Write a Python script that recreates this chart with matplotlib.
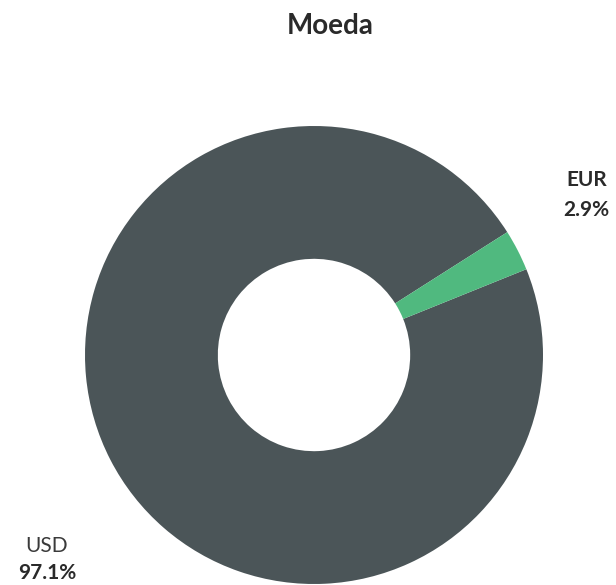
import matplotlib.pyplot as plt

moedas = ['USD', 'EUR']
valores = [97.1, 2.9]
cores = ['#4b5558', '#50b97f']

plt.rcParams['font.family'] = ['Lato', 'DejaVu Sans']

fig = plt.figure(figsize=(6.16, 5.85), dpi=100)
ax = fig.add_axes([0, 0, 1, 1])

ax.pie(valores, colors=cores, startangle=22, counterclock=False,
       wedgeprops=dict(width=0.58, linewidth=0))

# escala: 1 unidade = 229 px, centro em (314, 355) px
ax.set_xlim(-314 / 229, (616 - 314) / 229)
ax.set_ylim(-(585 - 355) / 229, 355 / 229)
ax.set_aspect('auto')
ax.axis('off')

fig.text(330 / 616, 1 - 26 / 585, 'Moeda', ha='center', va='center',
         fontsize=20, fontweight='bold', color='#2a2a2a')

# rótulos das fatias
ax.text(1.19, 0.764, moedas[1], ha='center', va='center', fontsize=15,
        fontweight='bold', color='#2a2a2a')
ax.text(1.188, 0.633, f'{valores[1]:.1f}%', ha='center', va='center',
        fontsize=15, fontweight='bold', color='#2a2a2a')
ax.text(-1.17, -0.834, moedas[0], ha='center', va='center', fontsize=15,
        color='#3a3a3a')
ax.text(-1.166, -0.952, f'{valores[0]:.1f}%', ha='center', va='center',
        fontsize=15, fontweight='bold', color='#2a2a2a')

fig.savefig('out.png', dpi=100, facecolor='white')
